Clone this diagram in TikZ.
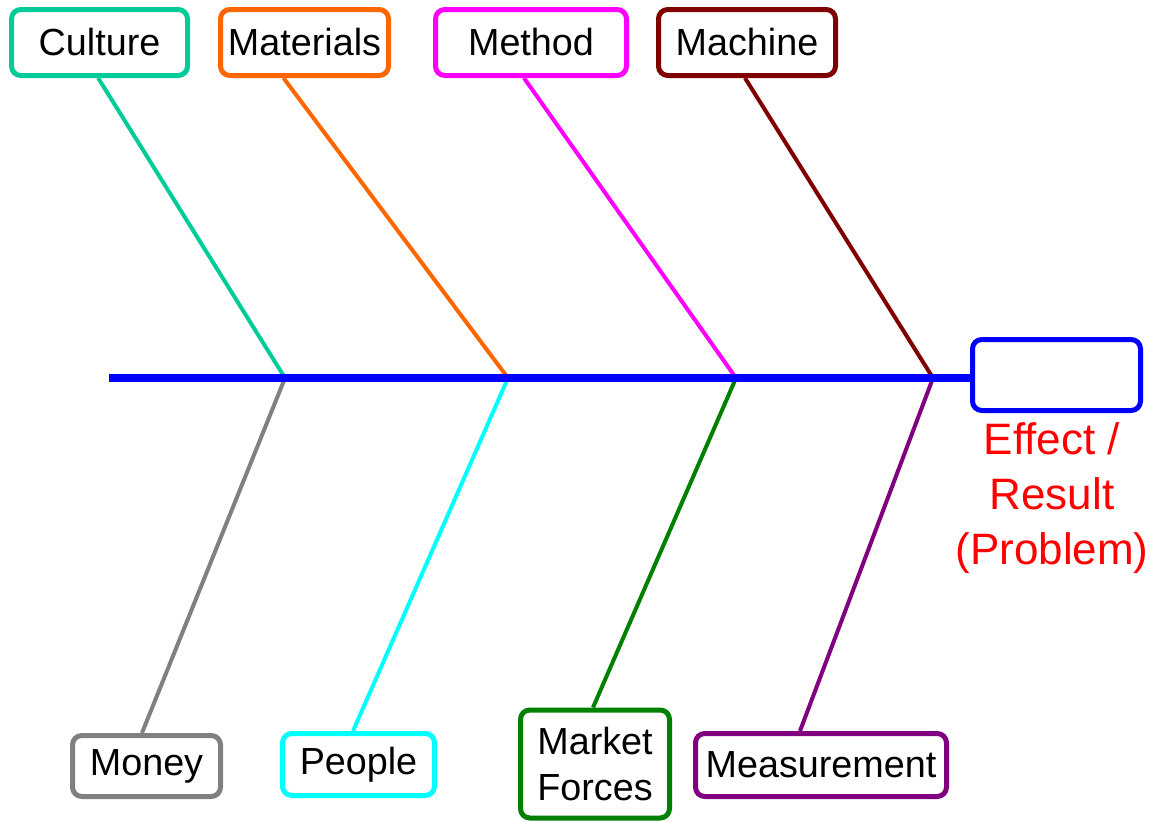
\documentclass[tikz,border=0pt]{standalone}
\usepackage{fontspec}
\setmainfont{Liberation Sans}
\usetikzlibrary{calc}
\definecolor{cteal}{RGB}{0,204,153}
\definecolor{corange}{RGB}{255,102,0}
\definecolor{cmagenta}{RGB}{255,0,255}
\definecolor{cmaroon}{RGB}{128,0,0}
\definecolor{cgray}{RGB}{128,128,128}
\definecolor{ccyan}{RGB}{0,255,255}
\definecolor{cgreen}{RGB}{0,128,0}
\definecolor{cpurple}{RGB}{128,0,128}
\definecolor{cblue}{RGB}{0,0,255}
\definecolor{cred}{RGB}{255,0,0}
\begin{document}
\begin{tikzpicture}[x=0.75pt,y=-0.75pt,
  cbox/.style={draw=#1, line width=3.75pt, rounded corners=7pt, fill=white, inner sep=0pt,
    align=center, font=\fontsize{28.3}{35}\selectfont},
  bone/.style={draw=#1, line width=3pt},
  spine/.style={draw=cblue, line width=5.5pt},
  effecttext/.style={text=cred, align=center, font=\fontsize{33}{41}\selectfont}]
\useasboundingbox (0,0) rectangle (1156,821);
% boxes
\node[cbox=cteal, minimum width=132pt, minimum height=49.5pt] (culture) at (99.5,42.5) {Culture};
\node[cbox=corange, minimum width=126pt, minimum height=49.5pt] (materials) at (304.5,42.5) {Materials};
\node[cbox=cmagenta, minimum width=143.25pt, minimum height=49.5pt] (method) at (531,42.5) {Method};
\node[cbox=cmaroon, minimum width=132.75pt, minimum height=49.5pt] (machine) at (747,42.5) {Machine};
\node[cbox=cblue, minimum width=126pt, minimum height=53.25pt] (effect) at (1056.5,375) {};
\node[cbox=cgray, minimum width=111pt, minimum height=45.75pt] (money) at (146.5,766) {Money};
\node[cbox=ccyan, minimum width=114pt, minimum height=46.5pt] (people) at (358.5,764.5) {People};
\node[cbox=cgreen, minimum width=111.75pt, minimum height=81pt] (market) at (595,764) {Market\\Forces};
\node[cbox=cpurple, minimum width=188.25pt, minimum height=47.25pt] (measure) at (821,765) {Measurement};
\node[effecttext] (label) at (1052,498) {Effect /\\Result\\(Problem)};
% junctions on the spine
\coordinate (s0) at (109,378);
\coordinate (j1) at (285,378);
\coordinate (j2) at (508,378);
\coordinate (j3) at (736,378);
\coordinate (j4) at (933,378);
% bones
\draw[bone=cteal] (j1) -- ([xshift=-1pt]culture.south);
\draw[bone=corange] (j2) -- ([xshift=-15.75pt]materials.south);
\draw[bone=cmagenta] (j3) -- ([xshift=-5.25pt]method.south);
\draw[bone=cmaroon] (j4) -- ([xshift=-1.5pt]machine.south);
\draw[bone=cgray] (j1) -- ([xshift=-3.4pt]money.north);
\draw[bone=ccyan] (j2) -- ([xshift=-4.1pt]people.north);
\draw[bone=cgreen] (j3) -- ([xshift=-1.5pt]market.north);
\draw[bone=cpurple] (j4) -- ([xshift=-15.75pt]measure.north);
% spine
\draw[spine] (s0) -- (s0 -| effect.west);
\end{tikzpicture}
\end{document}
